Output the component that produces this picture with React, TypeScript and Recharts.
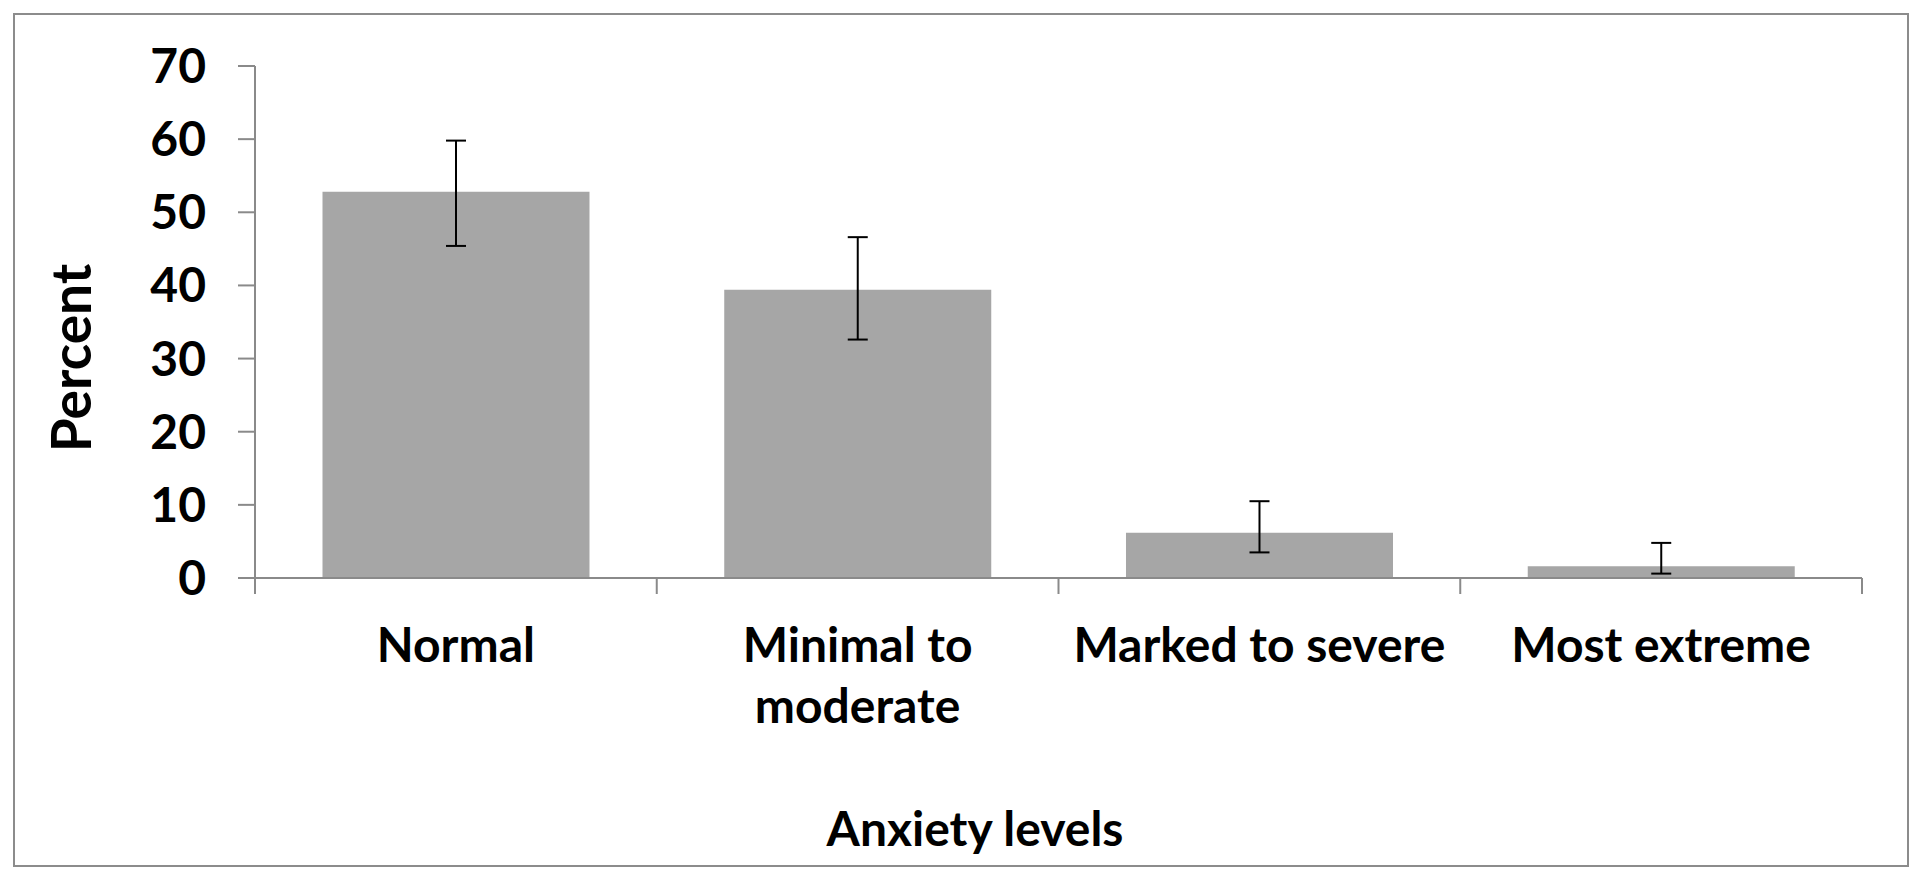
import { BarChart, Bar, XAxis, YAxis, ErrorBar, Label } from 'recharts'

const categories = ['Normal', 'Minimal to moderate', 'Marked to severe', 'Most extreme']
const percent = [52.8, 39.4, 6.2, 1.6]
const errDown = [7.4, 6.8, 2.7, 1.0]
const errUp = [7.0, 7.2, 4.3, 3.2]
const yTicks = [0, 10, 20, 30, 40, 50, 60, 70]

const data = categories.map((name, i) => ({
  name,
  value: percent[i],
  err: [errDown[i], errUp[i]],
}))

const FONT = 'Lato, "Open Sans", sans-serif'
const AXIS = '#8a8a8a'
const BAR = '#a6a6a6'
const LABEL_STYLE = { fontFamily: FONT, fontWeight: 700, fontSize: 48, fill: '#000' }

const W = 1920
const H = 872
const MARGIN = { top: 66, right: 58, bottom: 0, left: 0 }
const Y_AXIS_W = 255
const X_AXIS_H = 294
const PLOT_W = W - MARGIN.left - MARGIN.right - Y_AXIS_W

let ctx: CanvasRenderingContext2D | null = null
function measure(s: string) {
  if (!ctx) {
    ctx = document.createElement('canvas').getContext('2d')
    if (ctx) ctx.font = '700 48px Lato'
  }
  return ctx ? ctx.measureText(s).width : s.length * 24
}

// greedy word wrap to the category band width
function wrap(label: string, maxW: number) {
  const words = label.split(' ')
  const lines: string[] = []
  let cur = ''
  for (const w of words) {
    const next = cur ? cur + ' ' + w : w
    if (cur && measure(next) > maxW) {
      lines.push(cur)
      cur = w
    } else {
      cur = next
    }
  }
  if (cur) lines.push(cur)
  return lines
}

// category tick: wrapped label + boundary tick marks like Excel
function CategoryTick(props: any) {
  const { x, y, payload, index, visibleTicksCount } = props
  const count = visibleTicksCount || categories.length
  const band = PLOT_W / count
  const left = x - band / 2
  const right = x + band / 2
  const lines = wrap(String(payload.value), band - 20)
  return (
    <g>
      <line x1={left} x2={left} y1={y - 16} y2={y} stroke={AXIS} strokeWidth={2} />
      {index === count - 1 && (
        <line x1={right} x2={right} y1={y - 16} y2={y} stroke={AXIS} strokeWidth={2} />
      )}
      <text x={x} y={y + 68} textAnchor="middle" style={LABEL_STYLE}>
        {lines.map((ln, i) => (
          <tspan key={i} x={x} dy={i === 0 ? 0 : 61}>
            {ln}
          </tspan>
        ))}
      </text>
    </g>
  )
}

export default function App() {
  return (
    <div style={{ position: 'absolute', left: 0, top: 0, width: W, height: H, background: '#fff' }}>
      <div
        style={{
          position: 'absolute',
          left: 13,
          top: 13,
          width: 1896,
          height: 854,
          border: '2px solid #8c8c8c',
          boxSizing: 'border-box',
        }}
      />
      <BarChart width={W} height={H} data={data} margin={MARGIN} barCategoryGap="16.8%">
        <XAxis
          dataKey="name"
          height={X_AXIS_H}
          axisLine={{ stroke: AXIS, strokeWidth: 2 }}
          tickLine={false}
          tickSize={16}
          tickMargin={0}
          interval={0}
          tick={<CategoryTick />}
        >
          <Label
            content={() => (
              <text x={975} y={846} textAnchor="middle" style={LABEL_STYLE}>
                Anxiety levels
              </text>
            )}
          />
        </XAxis>
        <YAxis
          width={Y_AXIS_W}
          domain={[0, 70]}
          ticks={yTicks}
          interval={0}
          axisLine={{ stroke: AXIS, strokeWidth: 2 }}
          tickLine={{ stroke: AXIS, strokeWidth: 2 }}
          tickSize={17}
          tickMargin={32}
          tick={LABEL_STYLE}
        >
          <Label
            content={() => (
              <text
                x={91}
                y={358}
                transform="rotate(-90 91 358)"
                textAnchor="middle"
                style={{ ...LABEL_STYLE, fontSize: 55 }}
              >
                Percent
              </text>
            )}
          />
        </YAxis>
        <Bar dataKey="value" fill={BAR} isAnimationActive={false}>
          <ErrorBar
            dataKey="err"
            direction="y"
            width={10}
            stroke="#000"
            strokeWidth={2}
            isAnimationActive={false}
          />
        </Bar>
      </BarChart>
    </div>
  )
}
